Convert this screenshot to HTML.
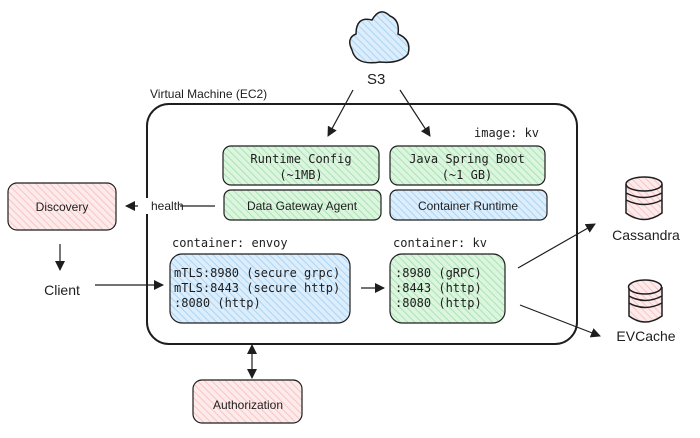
<!DOCTYPE html>
<html><head><meta charset="utf-8"><style>
html,body{margin:0;padding:0;background:#fff}
svg{display:block}
.m{font-family:"DejaVu Sans Mono","Liberation Mono",monospace;font-size:12px;fill:#1e1e1e}
.h{font-family:"Liberation Sans",sans-serif;font-size:12px;fill:#1e1e1e}
</style></head><body>
<svg width="700" height="438" viewBox="0 0 700 438" xmlns="http://www.w3.org/2000/svg">
<defs>
<pattern id="g" width="5" height="5" patternUnits="userSpaceOnUse" patternTransform="rotate(-45)">
<rect width="5" height="5" fill="#dcf5df"/><line x1="0" y1="0" x2="0" y2="5" stroke="#9ee0a8" stroke-width="1.6"/></pattern>
<pattern id="b" width="5" height="5" patternUnits="userSpaceOnUse" patternTransform="rotate(-45)">
<rect width="5" height="5" fill="#dcedfb"/><line x1="0" y1="0" x2="0" y2="5" stroke="#9fcff5" stroke-width="1.6"/></pattern>
<pattern id="r" width="5" height="5" patternUnits="userSpaceOnUse" patternTransform="rotate(-45)">
<rect width="5" height="5" fill="#fdeaea"/><line x1="0" y1="0" x2="0" y2="5" stroke="#f6bcbc" stroke-width="1.6"/></pattern>
<marker id="a" markerWidth="10" markerHeight="10" refX="9" refY="5" orient="auto" markerUnits="userSpaceOnUse">
<path d="M0,0 L10,5 L0,10 z" fill="#1e1e1e"/></marker>
<marker id="as" markerWidth="10" markerHeight="10" refX="1" refY="5" orient="auto" markerUnits="userSpaceOnUse">
<path d="M10,0 L0,5 L10,10 z" fill="#1e1e1e"/></marker>
</defs>
<g stroke="#1e1e1e" fill="none" stroke-width="1.5">
<path d="M352,50 Q346,38 356,34 Q356,16 372,20 Q380,6 390,16 Q400,20 398,34 Q412,40 408,54 Q400,64 380,62 Q356,66 352,50 z" fill="url(#b)"/>
<rect x="147" y="104" width="430" height="240" rx="22" stroke-width="2"/>
<rect x="223" y="146" width="156" height="39" rx="8" fill="url(#g)" stroke-width="1.2"/>
<rect x="390" y="146" width="155" height="39" rx="8" fill="url(#g)" stroke-width="1.2"/>
<rect x="224" y="190" width="157" height="30" rx="7" fill="url(#g)" stroke-width="1.2"/>
<rect x="390" y="190" width="157" height="30" rx="7" fill="url(#b)" stroke-width="1.2"/>
<rect x="170" y="254" width="180" height="69" rx="12" fill="url(#b)" stroke-width="1.2"/>
<rect x="390" y="254" width="115" height="69" rx="12" fill="url(#g)" stroke-width="1.2"/>
<rect x="8" y="183" width="108" height="47" rx="9" fill="url(#r)" stroke-width="1.2"/>
<rect x="193" y="380" width="109" height="43" rx="9" fill="url(#r)" stroke-width="1.2"/>
<path d="M626,184 L626,213 Q644,226 662,213 L662,184" fill="url(#r)"/>
<ellipse cx="644" cy="184" rx="18" ry="7" fill="url(#r)"/>
<path d="M626,193 Q644,202 662,193 M626,200 Q644,209 662,200"/>
<path d="M629,287 L629,316 Q645,328 662,316 L662,287" fill="url(#r)"/>
<ellipse cx="645" cy="287" rx="16.5" ry="7" fill="url(#r)"/>
<path d="M629,296 Q645,305 662,296 M629,303 Q645,312 662,303"/>
<line x1="353" y1="90" x2="328" y2="136" marker-end="url(#a)" stroke-width="1.2"/>
<line x1="400" y1="90" x2="430" y2="136" marker-end="url(#a)" stroke-width="1.2"/>
<line x1="215" y1="206" x2="126" y2="206" marker-end="url(#a)" stroke-width="1.2"/>
<line x1="60" y1="244" x2="60" y2="270" marker-end="url(#a)" stroke-width="1.2"/>
<line x1="95" y1="285" x2="163" y2="285" marker-end="url(#a)" stroke-width="1.2"/>
<line x1="361" y1="288" x2="384" y2="288" marker-end="url(#a)" stroke-width="1.2"/>
<line x1="252" y1="345" x2="252" y2="378" marker-end="url(#a)" marker-start="url(#as)" stroke-width="1.2"/>
<line x1="518" y1="268" x2="595" y2="224" marker-end="url(#a)" stroke-width="1.2"/>
<line x1="520" y1="305" x2="600" y2="336" marker-end="url(#a)" stroke-width="1.2"/>
</g>
<rect x="138" y="198" width="42" height="16" fill="#fff"/>
<text class="h" x="150" y="98">Virtual Machine (EC2)</text>
<text class="h" x="367" y="84" style="font-size:15px">S3</text>
<text class="m" x="474" y="137">image: kv</text>
<text class="m" x="301" y="163" text-anchor="middle">Runtime Config</text>
<text class="m" x="301" y="179" text-anchor="middle">(~1MB)</text>
<text class="m" x="467" y="163" text-anchor="middle">Java Spring Boot</text>
<text class="m" x="467" y="179" text-anchor="middle">(~1 GB)</text>
<text class="h" x="302" y="210" text-anchor="middle">Data Gateway Agent</text>
<text class="h" x="468" y="210" text-anchor="middle">Container Runtime</text>
<text class="h" x="151" y="210">health</text>
<text class="m" x="172" y="247">container: envoy</text>
<text class="m" x="393" y="247">container: kv</text>
<text class="m" x="174" y="277">mTLS:8980 (secure grpc)</text>
<text class="m" x="174" y="292">mTLS:8443 (secure http)</text>
<text class="m" x="174" y="307">:8080 (http)</text>
<text class="m" x="395" y="277">:8980 (gRPC)</text>
<text class="m" x="395" y="292">:8443 (http)</text>
<text class="m" x="395" y="307">:8080 (http)</text>
<text class="h" x="62" y="211" text-anchor="middle">Discovery</text>
<text class="h" x="62" y="295" text-anchor="middle" style="font-size:14px">Client</text>
<text class="h" x="248" y="409" text-anchor="middle">Authorization</text>
<text class="h" x="646" y="240" text-anchor="middle" style="font-size:14px">Cassandra</text>
<text class="h" x="646" y="341" text-anchor="middle" style="font-size:14px">EVCache</text>
</svg>
</body></html>
